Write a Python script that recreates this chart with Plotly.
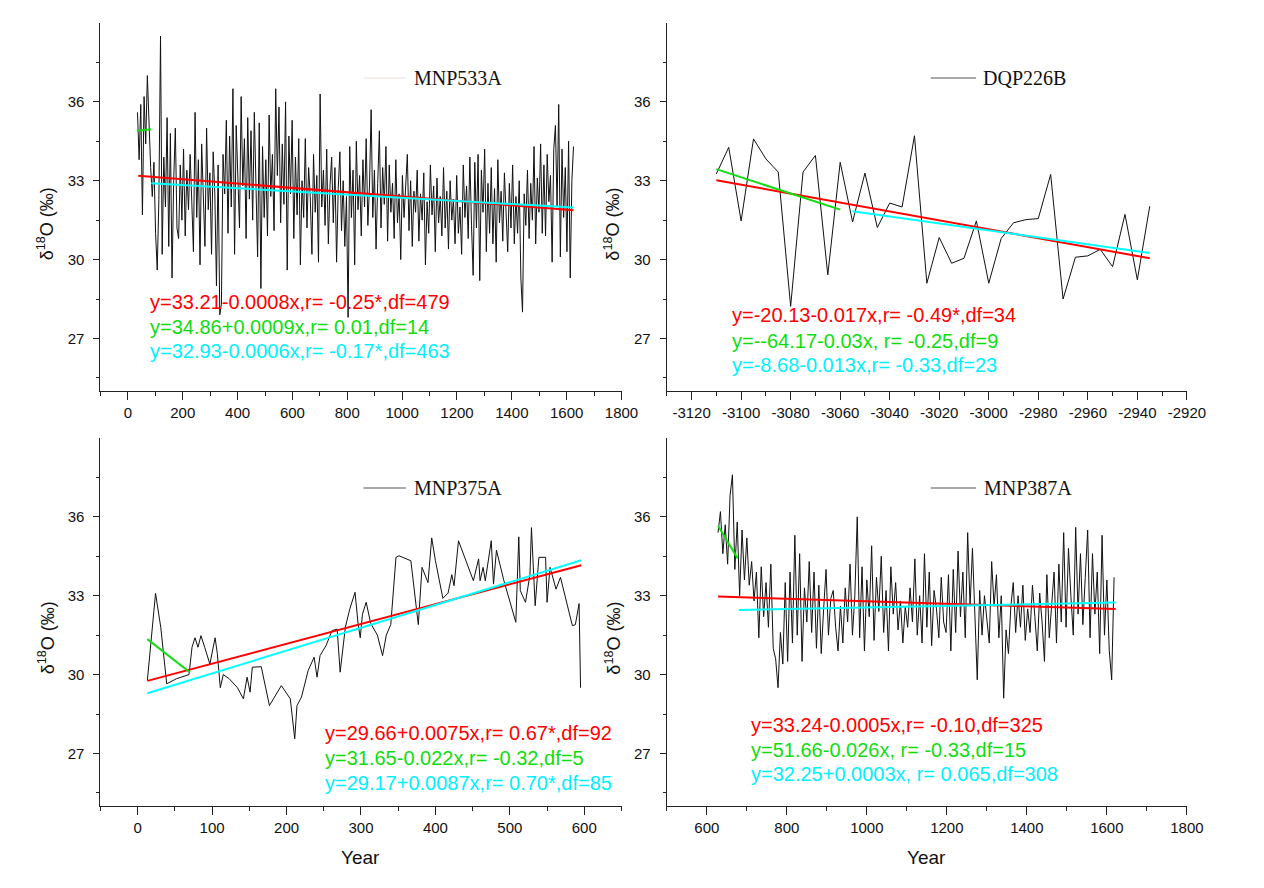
import plotly.graph_objects as go

W, H = 1264, 888

# ---------------- DATA ----------------
# Panel 1: MNP533A (years 35..1625 step 6)
p1_start, p1_step = 35, 6
p1_vals = [
    35.6, 33.8, 35.9, 31.7, 36.2, 34.4, 37.0, 34.9, 33.5, 32.4, 33.7, 31.0, 29.6, 32.3, 38.5, 30.2, 33.9,
    32.0, 35.4, 30.5, 34.8, 29.3, 33.0, 35.0, 31.2, 30.8, 33.6, 31.5, 34.2, 30.9, 33.4, 31.9, 34.0, 32.2,
    30.3, 35.6, 31.6, 33.8, 29.8, 34.4, 32.6, 30.5, 35.0, 31.9, 33.3, 30.2, 34.1, 32.5, 29.0, 33.6, 27.9,
    28.3, 34.0, 32.5, 35.3, 31.0, 34.7, 32.0, 36.5, 30.2, 35.1, 33.0, 31.2, 36.2, 32.8, 34.6, 30.8, 35.4,
    32.3, 34.9, 31.5, 35.6, 33.1, 30.1, 35.2, 28.9, 34.3, 31.6, 33.8, 30.9, 35.5, 32.4, 34.0, 31.1, 36.5,
    33.2, 35.8, 31.4, 34.4, 32.1, 36.0, 29.6, 34.7, 32.5, 35.3, 30.8, 33.9, 31.7, 34.6, 29.8, 33.0, 31.6,
    34.6, 31.2, 33.5, 32.4, 30.2, 34.0, 31.8, 33.2, 29.9, 36.3, 32.0, 33.4, 31.3, 34.2, 30.6, 32.8, 33.9,
    31.4, 33.5, 29.9, 32.7, 34.1, 31.1, 33.0, 30.5, 32.4, 27.8, 34.3, 31.6, 33.4, 29.8, 34.5, 31.9, 33.2,
    30.9, 33.8, 32.0, 34.6, 31.3, 32.8, 35.7, 31.6, 33.4, 30.4, 32.9, 34.9, 31.2, 33.5, 32.1, 34.3, 30.7,
    33.6, 31.8, 32.9, 30.8, 33.8, 31.4, 32.5, 30.0, 33.2, 31.6, 32.7, 34.0, 31.1, 33.0, 30.5, 32.6, 31.8,
    33.4, 30.7, 32.5, 31.5, 33.3, 29.8, 32.2, 31.0, 33.6, 31.7, 32.8, 30.3, 33.1, 31.4, 32.4, 30.9, 33.5,
    31.2, 32.6, 30.4, 33.0, 31.5, 32.3, 30.6, 33.2, 31.0, 32.0, 30.2, 33.6, 31.6, 32.8, 30.8, 33.9, 31.3,
    29.4, 33.7, 31.2, 34.0, 29.2, 33.4, 31.8, 34.2, 30.3, 32.9, 31.0, 33.5, 30.6, 32.7, 29.9, 33.8, 31.4,
    32.6, 30.7, 33.3, 31.5, 30.3, 32.9, 31.2, 33.6, 30.6, 32.4, 31.0, 33.0, 29.3, 28.0, 32.5, 31.3, 33.4,
    30.8, 32.9, 31.5, 34.3, 30.6, 33.1, 31.8, 34.4, 31.0, 33.6, 30.9, 34.0, 32.2, 33.2, 29.9, 34.2, 35.1,
    32.0, 35.9, 30.1, 34.2, 31.6, 33.5, 30.3, 34.5, 29.3, 33.0, 34.3,
]
p1_years = [p1_start + p1_step * i for i in range(len(p1_vals))]

# Panel 2: DQP226B (years -3110..-2935 step 5)
p2_years = [-3110, -3105, -3100, -3095, -3090, -3085, -3080, -3075, -3070, -3065, -3060, -3055,
            -3050, -3045, -3040, -3035, -3030, -3025, -3020, -3015, -3010, -3005, -3000, -2995,
            -2990, -2985, -2980, -2975, -2970, -2965, -2960, -2955, -2950, -2945, -2940, -2935]
p2_vals = [33.26, 34.27, 31.47, 34.59, 33.83, 33.33, 28.22, 33.33, 33.96, 29.42, 33.70, 31.43,
           33.29, 31.22, 32.15, 32.00, 34.71, 29.10, 30.84, 29.86, 30.05, 31.47, 29.10, 30.80,
           31.40, 31.52, 31.56, 33.24, 28.50, 30.09, 30.14, 30.39, 29.73, 31.72, 29.23, 32.03]

# Panel 3: MNP375A
p3_years = [13, 24, 31, 39, 52, 69, 73, 77, 81, 85, 90, 97, 104, 107, 111, 115, 123, 134, 142, 147,
            151, 154, 166, 177, 193, 205, 211, 214, 220, 229, 237, 241, 245, 253, 261, 268, 272, 279,
            285, 292, 296, 299, 302, 307, 313, 322, 329, 334, 340, 347, 351, 367, 377, 382, 390, 395,
            400, 410, 417, 422, 425, 431, 451, 458, 460, 464, 467, 475, 478, 482, 492, 508, 512, 514,
            521, 527, 529, 534, 539, 548, 550, 554, 562, 568, 584, 588, 593, 594, 595]
p3_vals = [29.77, 33.09, 31.80, 29.65, 29.84, 30.00, 31.04, 31.40, 31.04, 31.48, 31.04, 30.40, 31.40,
           30.80, 29.50, 30.00, 29.84, 29.50, 29.08, 29.90, 29.33, 30.28, 30.30, 28.82, 29.58, 29.08,
           27.56, 28.82, 29.14, 30.15, 30.66, 29.90, 30.72, 31.10, 31.67, 31.73, 30.09, 31.80, 32.50,
           33.13, 31.95, 31.40, 32.30, 32.75, 31.95, 31.50, 30.72, 31.50, 31.90, 34.46, 34.52, 34.33,
           31.90, 34.08, 33.50, 35.20, 34.33, 32.90, 33.10, 33.80, 33.38, 35.09, 33.57, 34.40, 33.57,
           34.08, 33.57, 35.09, 33.44, 34.73, 33.57, 31.99, 35.24, 33.19, 32.75, 33.80, 35.59, 32.62,
           34.46, 34.46, 32.75, 34.08, 33.25, 33.70, 31.86, 31.90, 32.70, 30.80, 29.50]

# Panel 4: MNP387A (years 628..1618 step 6)
p4_start, p4_step = 628, 6
p4_vals = [
    35.4, 36.2, 34.6, 35.7, 34.2, 36.8, 37.6, 34.0, 35.8, 33.0, 35.5, 33.6, 35.2, 33.4, 34.3, 32.8, 33.9,
    31.4, 34.1, 32.2, 33.5, 31.8, 34.2, 31.0, 30.6, 29.5, 31.6, 30.4, 33.5, 30.5, 33.9, 31.2, 35.3, 31.5,
    34.6, 30.5, 33.3, 32.0, 34.3, 31.6, 33.9, 31.0, 33.4, 30.8, 32.5, 34.0, 31.5, 32.9, 33.2, 31.8, 30.9,
    32.6, 31.2, 33.3, 32.0, 34.2, 31.5, 33.0, 36.0, 31.4, 34.1, 30.9, 33.6, 32.2, 34.9, 31.3, 33.7, 32.4,
    34.5, 31.6, 33.2, 30.9, 34.1, 32.3, 33.5, 31.7, 32.8, 31.2, 32.6, 31.8, 33.3, 32.0, 34.4, 31.5, 33.0,
    31.2, 34.6, 31.8, 33.9, 31.1, 33.2, 32.5, 31.4, 33.7, 32.0, 31.6, 33.8, 30.9, 34.0, 31.6, 34.7, 32.2,
    33.9, 31.4, 35.4, 32.6, 34.8, 31.9, 29.8, 33.2, 31.5, 33.0, 32.2, 31.2, 34.3, 32.6, 33.8, 31.4, 33.0,
    29.1, 31.7, 30.8, 32.6, 33.5, 31.6, 33.0, 31.8, 33.4, 31.3, 32.5, 31.6, 33.4, 32.2, 30.9, 33.1, 32.0,
    30.5, 33.8, 31.4, 32.6, 33.9, 31.2, 34.2, 32.0, 35.4, 31.8, 34.8, 33.0, 31.5, 35.6, 32.3, 34.6, 31.9,
    33.7, 35.5, 31.4, 34.6, 32.3, 33.9, 30.8, 35.3, 31.5, 33.6, 30.9, 29.8, 33.7,
]
p4_years = [p4_start + p4_step * i for i in range(len(p4_vals))]

# Trend line end points: (x0, y0, x1, y1)
p1_trends = {"red": (38, 33.19, 1625, 31.88), "cyan": (85, 32.90, 1625, 31.98), "green": (33, 34.90, 85, 34.96)}
p2_trends = {"red": (-3110, 33.02, -2935, 30.05), "cyan": (-3055, 31.84, -2935, 30.25), "green": (-3110, 33.44, -3060, 31.90)}
p3_trends = {"red": (13, 29.76, 596, 34.16), "cyan": (13, 29.29, 596, 34.35), "green": (13, 31.35, 70, 30.09)}
p4_trends = {"red": (628, 32.97, 1622, 32.49), "cyan": (680, 32.46, 1622, 32.74), "green": (628, 35.66, 677, 34.42)}

# Equation labels
p1_eq = ["y=33.21-0.0008x,r= -0.25*,df=479", "y=34.86+0.0009x,r= 0.01,df=14", "y=32.93-0.0006x,r= -0.17*,df=463"]
p2_eq = ["y=-20.13-0.017x,r= -0.49*,df=34", "y=--64.17-0.03x, r= -0.25,df=9", "y=-8.68-0.013x,r= -0.33,df=23"]
p3_eq = ["y=29.66+0.0075x,r= 0.67*,df=92", "y=31.65-0.022x,r= -0.32,df=5", "y=29.17+0.0087x,r= 0.70*,df=85"]
p4_eq = ["y=33.24-0.0005x,r= -0.10,df=325", "y=51.66-0.026x, r= -0.33,df=15", "y=32.25+0.0003x, r= 0.065,df=308"]

names = ["MNP533A", "DQP226B", "MNP375A", "MNP387A"]
y_ticks = [27, 30, 33, 36]
x_ticks = [
    [0, 200, 400, 600, 800, 1000, 1200, 1400, 1600, 1800],
    [-3120, -3100, -3080, -3060, -3040, -3020, -3000, -2980, -2960, -2940, -2920],
    [0, 100, 200, 300, 400, 500, 600],
    [600, 800, 1000, 1200, 1400, 1600, 1800],
]

# ---------------- STYLE ----------------
COL = {"red": "#ff0000", "green": "#10dd10", "cyan": "#00ffff"}
TXTCOL = ["#ff0000", "#10dd10", "#00f0ff"]
SANS = "Arial, Liberation Sans, sans-serif"
SERIF = "Times New Roman, Liberation Serif, serif"


def px(x):
    return x / W


def py(y):
    return 1 - y / H


fig = go.Figure()

panels = [
    dict(years=p1_years, vals=p1_vals, trends=p1_trends, eq=p1_eq, ax="", xr=[-100, 1800], t0=0, md=100,
         dx=[102, 631], dy=[23, 391], eqpos=(150, [302, 327, 351]), leg=(369, 412, 418, 78), legcol="#eadcd4", year=False),
    dict(years=p2_years, vals=p2_vals, trends=p2_trends, eq=p2_eq, ax="2", xr=[-3130, -2920], t0=-3120, md=10,
         dx=[677, 1205], dy=[23, 391], eqpos=(741, [315, 341, 365]), leg=(945, 991, 996, 78), legcol="#555555", year=False),
    dict(years=p3_years, vals=p3_vals, trends=p3_trends, eq=p3_eq, ax="3", xr=[-50, 650], t0=0, md=50,
         dx=[102, 631], dy=[438, 806], eqpos=(328, [733, 758, 783]), leg=(369, 412, 418, 488), legcol="#555555", year=True),
    dict(years=p4_years, vals=p4_vals, trends=p4_trends, eq=p4_eq, ax="4", xr=[500, 1800], t0=0, md=100,
         dx=[677, 1205], dy=[438, 806], eqpos=(760, [725, 750, 774]), leg=(945, 991, 997, 488), legcol="#555555", year=True),
]

annotations = []
shapes = []
layout_axes = {}

for i, p in enumerate(panels):
    xa = "x" + p["ax"]
    ya = "y" + p["ax"]
    fig.add_trace(go.Scatter(x=p["years"], y=p["vals"], mode="lines", xaxis=xa, yaxis=ya,
                             line=dict(color="#111111", width=1), showlegend=False, hoverinfo="skip"))
    for c in ["red", "cyan", "green"]:
        x0, y0, x1, y1 = p["trends"][c]
        fig.add_trace(go.Scatter(x=[x0, x1], y=[y0, y1], mode="lines", xaxis=xa, yaxis=ya,
                                 line=dict(color=COL[c], width=2), showlegend=False, hoverinfo="skip"))

    axis_common = dict(showline=True, linecolor="#222222", linewidth=1.2, ticks="outside", tickcolor="#222222",
                       showgrid=False, zeroline=False, tickfont=dict(family=SANS, size=15, color="#111111"))
    layout_axes["xaxis" + p["ax"]] = dict(
        domain=[px(p["dx"][0]), px(p["dx"][1])], range=p["xr"], anchor=ya, tickmode="array",
        tickvals=x_ticks[i], ticktext=[str(v) for v in x_ticks[i]],
        ticklen=8, tickwidth=1.2, ticklabelstandoff=0,
        minor=dict(tickmode="linear", tick0=p["t0"], dtick=p["md"], ticklen=4, ticks="outside", tickcolor="#222222"),
        **axis_common)
    layout_axes["yaxis" + p["ax"]] = dict(
        domain=[py(p["dy"][1]), py(p["dy"][0])], range=[25, 39], anchor=xa, tickmode="array",
        tickvals=y_ticks, ticktext=[str(v) for v in y_ticks], ticklen=6, tickwidth=1.2, ticklabelstandoff=6,
        minor=dict(tickmode="linear", tick0=25.5, dtick=3, ticklen=3, ticks="outside", tickcolor="#222222"),
        **axis_common)

    # equations
    ex, eys = p["eqpos"]
    for k, (txt, yy) in enumerate(zip(p["eq"], eys)):
        annotations.append(dict(x=px(ex), y=py(yy), xref="paper", yref="paper", text=txt, showarrow=False,
                                xanchor="left", yanchor="middle",
                                font=dict(family=SANS, size=20, color=TXTCOL[k])))
    # legend
    lx0, lx1, tx, ly = p["leg"]
    shapes.append(dict(type="line", xref="paper", yref="paper", x0=px(lx0), x1=px(lx1), y0=py(ly), y1=py(ly),
                       line=dict(color=p["legcol"], width=1.2)))
    annotations.append(dict(x=px(tx), y=py(ly), xref="paper", yref="paper", text=names[i], showarrow=False,
                            xanchor="left", yanchor="middle", font=dict(family=SERIF, size=20, color="#111111")))
    # y label
    ylx = 47 if i % 2 == 0 else 622
    yly = 224 if i < 2 else 638
    annotations.append(dict(x=px(ylx), y=py(yly), xref="paper", yref="paper",
                            text="δ<sup>18</sup>O (‰)", showarrow=False, textangle=-90,
                            xanchor="center", yanchor="middle", font=dict(family=SANS, size=18, color="#111111")))
    if p["year"]:
        cx = (p["dx"][0] + p["dx"][1]) / 2
        annotations.append(dict(x=px(cx), y=py(857), xref="paper", yref="paper", text="Year", showarrow=False,
                                xanchor="center", yanchor="middle", font=dict(family=SANS, size=19, color="#111111")))

fig.update_layout(width=W, height=H, margin=dict(l=0, r=0, t=0, b=0), paper_bgcolor="white",
                  plot_bgcolor="white", showlegend=False, annotations=annotations, shapes=shapes, **layout_axes)

fig.write_html("out.html")
